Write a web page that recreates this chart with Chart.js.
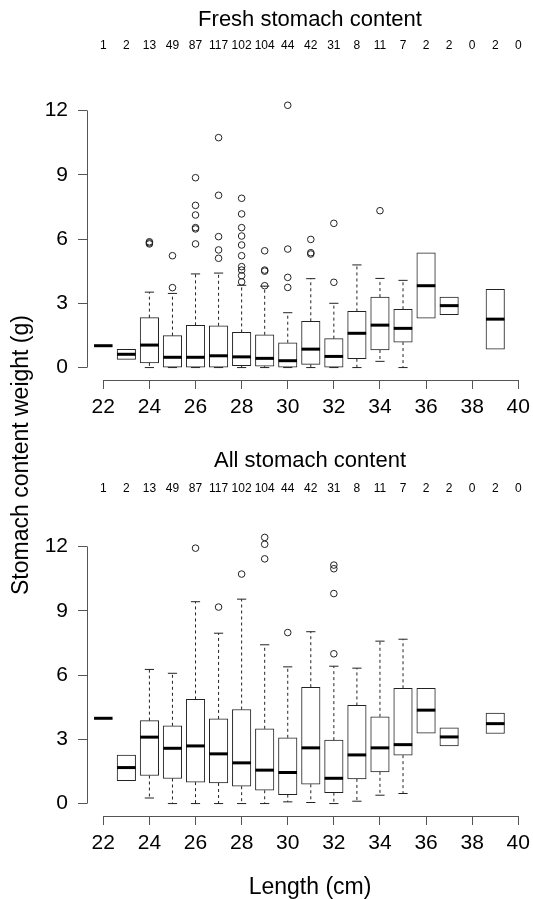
<!DOCTYPE html>
<html>
<head>
<meta charset="utf-8">
<script src="https://cdn.jsdelivr.net/npm/chart.js@4.4.0/dist/chart.umd.min.js"></script>
<style>
  body { margin: 0; background: #fff; }
  #wrap { position: relative; width: 533px; height: 899px; overflow: hidden; background: #fff; }
  canvas { position: absolute; left: 0; }
  #ylab { position: absolute; left: -179px; top: 441px; width: 400px; height: 28px; line-height: 28px;
          text-align: center; font: 23px "Liberation Sans", Arial, sans-serif; color: #000;
          transform: rotate(-90deg); }
</style>
</head>
<body>
<div id="wrap">
  <canvas id="fresh" width="533" height="440" style="top:0"></canvas>
  <canvas id="all" width="533" height="463" style="top:436px"></canvas>
  <div id="ylab">Stomach content weight (g)</div>
</div>
<script>
// length classes (cm) and number of fish in each
const lengths = [22, 23, 24, 25, 26, 27, 28, 29, 30, 31, 32, 33, 34, 35, 36, 37, 38, 39, 40];
const counts  = [1, 2, 13, 49, 87, 117, 102, 104, 44, 42, 31, 8, 11, 7, 2, 2, 0, 2, 0];
const xTicks = [22, 24, 26, 28, 30, 32, 34, 36, 38, 40];
const yTicks = [0, 3, 6, 9, 12];

// fresh stomach content (g)
const freshQ1  = [1.02, 0.38, 0.22, 0.02, 0.00, 0.00, 0.09, 0.07, 0.00, 0.15, 0.00, 0.41, 0.82, 1.19, 2.31, 2.47, null, 0.86, null];
const freshMed = [1.02, 0.62, 1.05, 0.48, 0.48, 0.55, 0.50, 0.43, 0.32, 0.86, 0.52, 1.60, 1.98, 1.83, 3.82, 2.89, null, 2.26, null];
const freshQ3  = [1.02, 0.85, 2.33, 1.49, 1.97, 1.95, 1.64, 1.53, 1.16, 2.16, 1.35, 2.62, 3.29, 2.72, 5.35, 3.29, null, 3.65, null];
const freshLo  = [null, null, 0.00, 0.00, 0.00, 0.00, 0.00, 0.00, 0.00, 0.00, 0.00, 0.00, 0.29, 0.00, null, null, null, null, null];
const freshHi  = [null, null, 3.52, 3.46, 4.37, 4.41, 3.84, 3.80, 2.56, 4.15, 3.00, 4.79, 4.16, 4.07, null, null, null, null, null];
const freshOut = [[], [], [5.87, 5.82, 5.77], [3.73, 5.22], [5.77, 6.47, 6.53, 7.12, 7.57, 8.86],
  [5.10, 5.49, 6.11, 8.04, 10.73], [4.00, 4.29, 4.55, 4.71, 5.22, 5.72, 6.14, 6.53, 7.17, 7.90],
  [3.82, 4.50, 4.55, 5.45], [3.74, 4.21, 5.53, 12.24], [5.30, 5.36, 5.98], [3.98, 6.73],
  [], [7.32], [], [], [], [], [], []];

// all stomach content (g)
const allQ1  = [3.98, 1.07, 1.31, 1.17, 1.00, 0.96, 0.81, 0.62, 0.42, 0.90, 0.51, 1.15, 1.48, 2.26, 3.28, 2.69, null, 3.27, null];
const allMed = [3.98, 1.68, 3.10, 2.58, 2.69, 2.32, 1.90, 1.56, 1.45, 2.60, 1.18, 2.27, 2.60, 2.75, 4.36, 3.11, null, 3.73, null];
const allQ3  = [3.98, 2.26, 3.87, 3.63, 4.86, 3.95, 4.39, 3.49, 3.07, 5.43, 2.96, 4.58, 4.05, 5.38, 5.38, 3.53, null, 4.22, null];
const allLo  = [null, null, 0.26, 0.00, 0.00, 0.00, 0.00, 0.00, 0.08, 0.05, 0.00, 0.11, 0.39, 0.47, null, null, null, null, null];
const allHi  = [null, null, 6.26, 6.08, 9.42, 7.95, 9.54, 7.41, 6.38, 8.02, 6.41, 6.32, 7.58, 7.67, null, null, null, null, null];
const allOut = [[], [], [], [], [11.92], [9.17, 14.07], [10.71], [11.42, 12.10, 12.42], [7.98, 13.26], [13.52],
  [6.99, 9.80, 10.96, 11.13], [], [], [], [], [], [], [], []];

const FONT = '"Liberation Sans", Arial, Helvetica, sans-serif';
Chart.defaults.font.family = FONT;
Chart.defaults.color = '#000';

const INK = '#222';
const AXIS = '#555';

// R-style axis lines that only span the tick range
const rAxisLines = {
  id: 'rAxisLines',
  afterDraw(chart) {
    const { ctx, chartArea, scales } = chart;
    const x = scales.x, y = scales.y;
    const ax = Math.round(chartArea.left) + 0.5;
    const ay = Math.round(chartArea.bottom) + 0.5;
    ctx.save();
    ctx.strokeStyle = AXIS;
    ctx.lineWidth = 1;
    ctx.beginPath();
    ctx.moveTo(ax, y.getPixelForValue(yTicks[0]));
    ctx.lineTo(ax, y.getPixelForValue(yTicks[yTicks.length - 1]));
    ctx.moveTo(x.getPixelForValue(xTicks[0]), ay);
    ctx.lineTo(x.getPixelForValue(xTicks[xTicks.length - 1]), ay);
    ctx.stroke();
    ctx.restore();
  }
};

function makeChart(id, title, q1, med, q3, lo, hi, out, opt) {
  const boxes = [], medians = [], whiskers = [], caps = [], points = [];
  lengths.forEach((x, i) => {
    if (q1[i] !== null && q1[i] !== q3[i]) boxes.push({ x, y: [q1[i], q3[i]] });
    if (med[i] !== null) medians.push({ x, y: med[i] });
    if (hi[i] !== null) {
      whiskers.push({ x, y: q3[i] }, { x, y: hi[i] }, { x, y: null });
      caps.push({ x, y: hi[i] });
    }
    if (lo[i] !== null) {
      whiskers.push({ x, y: q1[i] }, { x, y: lo[i] }, { x, y: null });
      caps.push({ x, y: lo[i] });
    }
    out[i].forEach(v => points.push({ x, y: v }));
  });

  const xMin = 21.293, xMax = 40.638;

  return new Chart(document.getElementById(id), {
    type: 'bar',
    data: {
      datasets: [
        { type: 'bar', data: boxes, order: 4, xAxisID: 'x', yAxisID: 'y',
          backgroundColor: '#fff', borderColor: INK, borderWidth: 1, borderSkipped: false,
          barThickness: 18.5, clip: false },
        { type: 'line', data: whiskers, order: 3, xAxisID: 'x', yAxisID: 'y',
          borderColor: INK, borderWidth: 1, borderDash: [3, 3], pointRadius: 0,
          spanGaps: false, fill: false, clip: false },
        { type: 'scatter', data: caps, order: 2, xAxisID: 'x', yAxisID: 'y',
          pointStyle: 'line', pointRadius: 4.6, pointBorderWidth: 1, pointBorderColor: INK, clip: false },
        { type: 'scatter', data: medians, order: 1, xAxisID: 'x', yAxisID: 'y',
          pointStyle: 'line', pointRadius: 9.25, pointBorderWidth: 3, pointBorderColor: '#000', clip: false },
        { type: 'scatter', data: points, order: 0, xAxisID: 'x', yAxisID: 'y',
          pointStyle: 'circle', pointRadius: 3.3, pointBorderWidth: 1, pointBorderColor: INK,
          pointBackgroundColor: 'rgba(0,0,0,0)', clip: false }
      ]
    },
    options: {
      responsive: false,
      animation: false,
      events: [],
      devicePixelRatio: 1,
      layout: { padding: 0, autoPadding: false },
      plugins: { legend: { display: false }, tooltip: { enabled: false }, title: { display: false } },
      scales: {
        x: {
          type: 'linear', axis: 'x', position: 'bottom', min: xMin, max: xMax, offset: false,
          afterBuildTicks: s => { s.ticks = xTicks.map(v => ({ value: v })); },
          afterFit: s => { s.height = opt.bottomH; s.paddingLeft = 0; s.paddingRight = 0; },
          grid: { offset: false, drawOnChartArea: false, drawTicks: true, tickLength: 9, color: AXIS },
          border: { display: false },
          ticks: { font: { size: 21 }, color: '#000', padding: 6, autoSkip: false, maxRotation: 0 },
          title: { display: !!opt.xTitle, text: opt.xTitle || '', font: { size: 23, lineHeight: 1 },
                   color: '#000', padding: { top: 0, bottom: 0 } }
        },
        n: {
          type: 'linear', axis: 'x', position: 'top', min: xMin, max: xMax, offset: false,
          afterBuildTicks: s => { s.ticks = lengths.map(v => ({ value: v })); },
          afterFit: s => { s.height = opt.topH; s.paddingLeft = 0; s.paddingRight = 0; },
          grid: { display: false, offset: false },
          border: { display: false },
          ticks: { font: { size: 12 }, color: '#000', padding: opt.countPad, autoSkip: false, maxRotation: 0,
                   callback: v => String(counts[lengths.indexOf(v)]) },
          title: { display: true, text: title, font: { size: 22 }, color: '#000',
                   padding: { top: opt.titlePad, bottom: 0 } }
        },
        y: {
          type: 'linear', position: 'left', min: -0.58, max: 12.86,
          afterBuildTicks: s => { s.ticks = yTicks.map(v => ({ value: v })); },
          afterFit: s => { s.width = 87; s.paddingTop = 0; s.paddingBottom = 0; },
          grid: { drawOnChartArea: false, drawTicks: true, tickLength: 9, color: AXIS },
          border: { display: false },
          ticks: { font: { size: 21 }, color: '#000', padding: 10 }
        }
      }
    },
    plugins: [rAxisLines]
  });
}

makeChart('fresh', 'Fresh stomach content', freshQ1, freshMed, freshQ3, freshLo, freshHi, freshOut,
  { topH: 92, bottomH: 60, countPad: 30.8, titlePad: 6.8 });
makeChart('all', 'All stomach content', allQ1, allMed, allQ3, allLo, allHi, allOut,
  { topH: 92, bottomH: 83, countPad: 23.8, titlePad: 11.8, xTitle: 'Length (cm)' });
</script>
</body>
</html>
